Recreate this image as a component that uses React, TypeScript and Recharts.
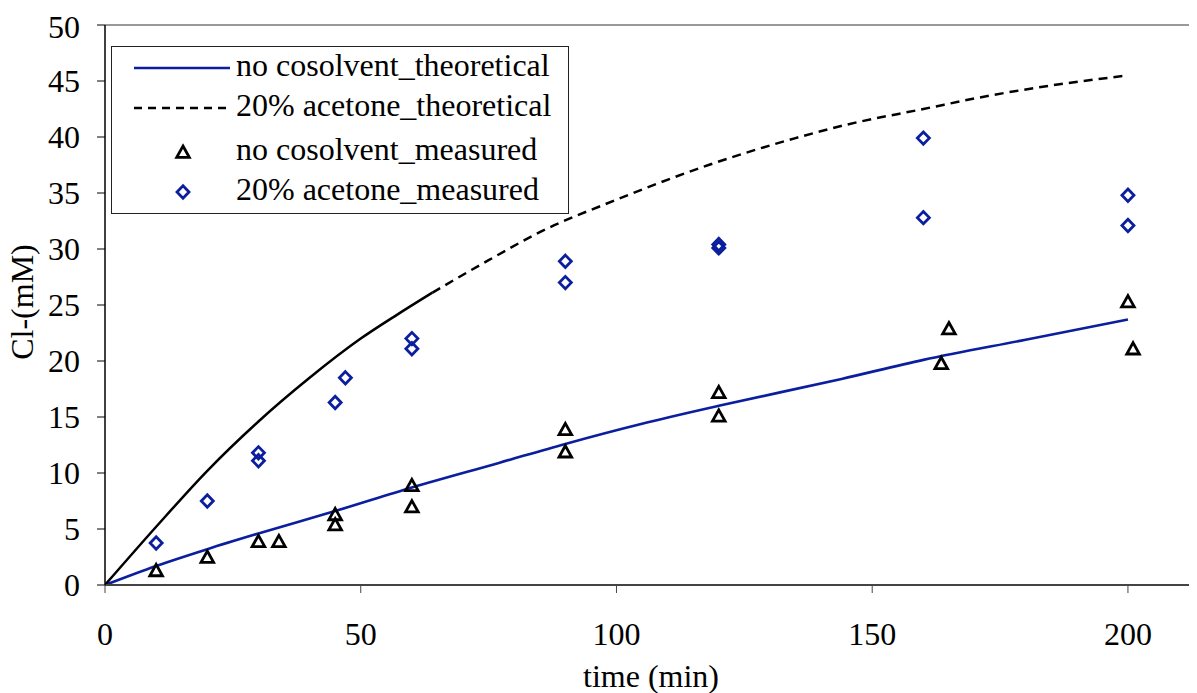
import { ComposedChart, Line, Scatter, XAxis, YAxis, ReferenceLine, Label } from "recharts";

// theoretical curves
const tNoCo = [0, 10, 20, 30, 45, 60, 77, 90, 105, 120, 144, 160, 180, 200];
const clNoCo = [0, 1.7, 3.2, 4.6, 6.6, 8.7, 10.9, 12.6, 14.4, 16.0, 18.4, 20.1, 21.9, 23.7];

// 20% acetone: solid up to ~64 min, dashed afterwards
const tAceSolid = [0, 10, 20, 30, 40, 50, 57, 64];
const clAceSolid = [0, 5.2, 10.2, 14.6, 18.5, 22.0, 24.1, 26.1];
const tAceDash = [64, 75, 85, 100, 118, 135, 145, 160, 173, 185, 200];
const clAceDash = [26.1, 29.0, 31.5, 34.4, 37.5, 39.9, 41.1, 42.5, 43.7, 44.6, 45.5];

// measured
const tNoCoMeas = [10, 20, 30, 34, 45, 45, 60, 60, 90, 90, 120, 120, 163.5, 165, 200, 201];
const clNoCoMeas = [1.3, 2.5, 3.9, 3.9, 6.3, 5.4, 8.9, 7.0, 13.9, 11.9, 17.2, 15.1, 19.8, 22.9, 25.3, 21.1];
const tAceMeas = [10, 20, 30, 30, 45, 47, 60, 60, 90, 90, 120, 120, 160, 160, 200, 200];
const clAceMeas = [3.75, 7.5, 11.8, 11.1, 16.3, 18.5, 22.0, 21.1, 28.9, 27.0, 30.4, 30.1, 39.9, 32.8, 34.8, 32.1];

const xTicks = [0, 50, 100, 150, 200];
const yTicks = [0, 5, 10, 15, 20, 25, 30, 35, 40, 45, 50];

const BLUE = "#0B1F9E";
const FONT = "Liberation Serif";
const FS = 32;

const zip = (ts: number[], vs: number[]) => ts.map((t, i) => ({ t, v: vs[i] }));

const noCoLine = zip(tNoCo, clNoCo);
const aceSolid = zip(tAceSolid, clAceSolid);
const aceDash = zip(tAceDash, clAceDash);
const noCoMeas = zip(tNoCoMeas, clNoCoMeas);
const aceMeas = zip(tAceMeas, clAceMeas);

function Triangle(props: any) {
  const { cx, cy } = props;
  if (cx == null || cy == null) return null;
  return (
    <path
      d={`M${cx},${cy - 6} L${cx + 6.3},${cy + 5.3} L${cx - 6.3},${cy + 5.3} Z`}
      fill="none"
      stroke="#000"
      strokeWidth={2.8}
    />
  );
}

function Diamond(props: any) {
  const { cx, cy } = props;
  if (cx == null || cy == null) return null;
  return (
    <path
      d={`M${cx},${cy - 6.2} L${cx + 6},${cy} L${cx},${cy + 6.2} L${cx - 6},${cy} Z`}
      fill="none"
      stroke={BLUE}
      strokeWidth={2.8}
    />
  );
}

const tickStyle = { fontFamily: FONT, fontSize: FS, fill: "#000" };

function LegendBox() {
  const rowText: React.CSSProperties = {
    position: "absolute",
    left: 124,
    fontFamily: FONT,
    fontSize: FS,
    lineHeight: `${FS}px`,
    whiteSpace: "nowrap",
    color: "#000",
  };
  const rows = [
    { label: "no cosolvent_theoretical", y: 21, kind: "solid" },
    { label: "20% acetone_theoretical", y: 61, kind: "dash" },
    { label: "no cosolvent_measured", y: 105, kind: "tri" },
    { label: "20% acetone_measured", y: 145, kind: "dia" },
  ];
  return (
    <div
      style={{
        position: "absolute",
        left: 103,
        top: 38,
        width: 456,
        height: 166,
        border: "1px solid #222",
        background: "#fff",
      }}
    >
      <svg width={456} height={166} style={{ position: "absolute", left: 0, top: 0 }}>
        {rows.map((r) => {
          if (r.kind === "solid")
            return <line key={r.label} x1={22} x2={118} y1={r.y} y2={r.y} stroke={BLUE} strokeWidth={2.5} />;
          if (r.kind === "dash")
            return (
              <line key={r.label} x1={22} x2={118} y1={r.y} y2={r.y} stroke="#000" strokeWidth={2.5} strokeDasharray="8 6" />
            );
          if (r.kind === "tri") return <Triangle key={r.label} cx={71} cy={r.y} />;
          return <Diamond key={r.label} cx={71} cy={r.y} />;
        })}
      </svg>
      {rows.map((r) => (
        <div key={r.label} style={{ ...rowText, top: r.y - 19 }}>
          {r.label}
        </div>
      ))}
    </div>
  );
}

export default function App() {
  return (
    <div style={{ position: "relative", width: 1189, height: 685 }}>
      <ComposedChart width={1189} height={685} margin={{ top: 17, right: 0, bottom: 0, left: 0 }}>
        <XAxis
          dataKey="t"
          type="number"
          domain={[0, 213.5]}
          ticks={xTicks}
          allowDataOverflow
          height={108}
          tickSize={8}
          tickMargin={29}
          tick={tickStyle}
          axisLine={{ stroke: "#444", strokeWidth: 2 }}
          tickLine={{ stroke: "#444" }}
        >
          <Label value="time (min)" position="insideBottom" offset={6} fontFamily={FONT} fontSize={FS} fill="#000" />
        </XAxis>
        <YAxis
          dataKey="v"
          type="number"
          domain={[0, 50]}
          ticks={yTicks}
          width={97}
          tickSize={8}
          tickMargin={17}
          tick={tickStyle}
          axisLine={{ stroke: "#000", strokeWidth: 1.5 }}
          tickLine={{ stroke: "#000" }}
        />
        <ReferenceLine y={50} stroke="#999" strokeWidth={2} />
        <Line data={noCoLine} dataKey="v" type="monotone" stroke={BLUE} strokeWidth={2.6} dot={false} isAnimationActive={false} />
        <Line data={aceSolid} dataKey="v" type="monotone" stroke="#000" strokeWidth={2.5} dot={false} isAnimationActive={false} />
        <Line
          data={aceDash}
          dataKey="v"
          type="monotone"
          stroke="#000"
          strokeWidth={2.5}
          strokeDasharray="9 6"
          dot={false}
          isAnimationActive={false}
        />
        <Scatter data={noCoMeas} dataKey="v" shape={<Triangle />} isAnimationActive={false} />
        <Scatter data={aceMeas} dataKey="v" shape={<Diamond />} isAnimationActive={false} />
      </ComposedChart>
      {/* y-axis title, rotated */}
      <div
        style={{
          position: "absolute",
          left: -56,
          top: 276,
          width: 140,
          height: 36,
          lineHeight: "36px",
          textAlign: "center",
          fontFamily: FONT,
          fontSize: FS,
          color: "#000",
          whiteSpace: "nowrap",
          transform: "rotate(-90deg)",
          transformOrigin: "center",
        }}
      >
        Cl-(mM)
      </div>
      <LegendBox />
    </div>
  );
}
